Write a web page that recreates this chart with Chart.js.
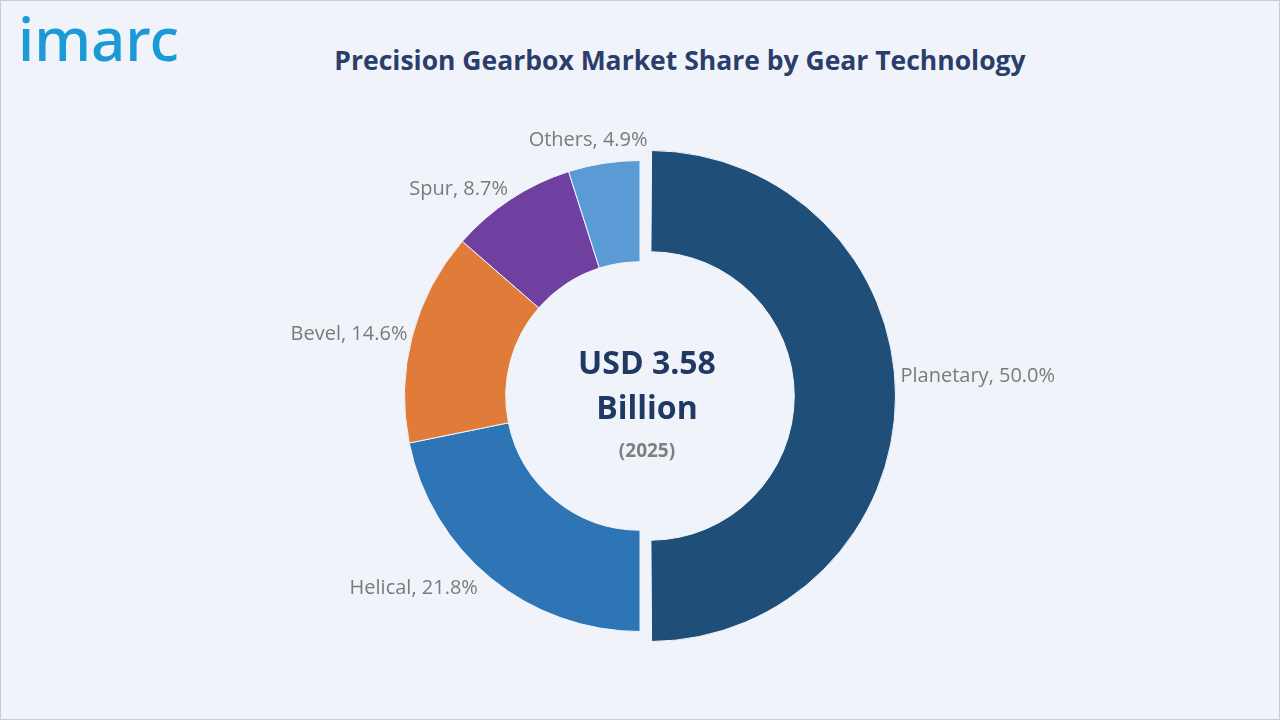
<!DOCTYPE html>
<html><head><meta charset="utf-8">
<script src="https://cdn.jsdelivr.net/npm/chart.js@4"></script>
<style>
  body { margin:0; width:1280px; height:720px; background:#f0f4fa; font-family:"Open Sans", sans-serif; overflow:hidden; }
  #frame { position:absolute; left:0; top:0; width:1278px; height:718px; border:1px solid #c8ccd2; }
  #logo { position:absolute; left:18px; top:8px; font-size:60px; font-weight:500; color:#1c9ad6; letter-spacing:0px; font-family:"Noto Sans", sans-serif; line-height:1; }
  #title { position:absolute; left:0; width:1360px; top:42px; text-align:center; font-size:26.5px; font-weight:bold; color:#2b3d6b; }
  canvas { position:absolute; left:0; top:0; }
</style></head>
<body>
<div id="frame"></div>
<div id="logo">imarc</div>
<div id="title">Precision Gearbox Market Share by Gear Technology</div>
<canvas id="pie" width="1280" height="720"></canvas>
<script>
const categories = ["Planetary", "Helical", "Bevel", "Spur", "Others"];
const shares = [50.0, 21.8, 14.6, 8.7, 4.9];
const colors = ["#1f4e79", "#2e75b6", "#e07b39", "#7040a0", "#5b9bd5"];

const labelPlugin = {
  id: "outLabels",
  afterDraw(chart) {
    const ctx = chart.ctx;
    const arcs = chart.getDatasetMeta(0).data;
    ctx.save();
    ctx.font = "20px 'Open Sans', sans-serif";
    ctx.fillStyle = "#7a7a7a";
    ctx.textBaseline = "middle";
    arcs.forEach((arc, i) => {
      const p = arc.getProps(["x", "y", "startAngle", "endAngle", "outerRadius"], true);
      const mid = (p.startAngle + p.endAngle) / 2;
      const r = p.outerRadius + 5;
      const cx = Math.cos(mid), cy = Math.sin(mid);
      let x = p.x + cx * r + (i === 0 ? 20 : 0), y = p.y + cy * r - (i === 0 ? 20 : 0);
      if (i === 1) { x -= 10; y += 6; }
      if (i === 3) { y -= 6; }
      ctx.textAlign = Math.abs(cx) < 0.3 ? "center" : (cx > 0 ? "left" : "right");
      if (ctx.textAlign === "center") { y -= 18; x -= 15; }
      ctx.fillText(categories[i] + ", " + shares[i].toFixed(1) + "%", x, y);
    });
    const c = arcs[1];
    ctx.textAlign = "center";
    ctx.fillStyle = "#1f3864";
    ctx.font = "bold 32px 'Open Sans', sans-serif";
    ctx.fillText("USD 3.58", c.x + 7, 365);
    ctx.fillText("Billion", c.x + 7, 410);
    ctx.font = "bold 19px 'Open Sans', sans-serif";
    ctx.fillStyle = "#7f7f7f";
    ctx.fillText("(2025)", c.x + 7, 452);
    ctx.restore();
  }
};

new Chart(document.getElementById("pie"), {
  type: "doughnut",
  data: {
    labels: categories,
    datasets: [{
      data: shares,
      backgroundColor: colors,
      borderColor: "#f0f4fa",
      borderWidth: 1,
      offset: [40, 0, 0, 0, 0]
    }]
  },
  options: {
    responsive: false,
    animation: false,
    cutout: "57%",
    layout: { padding: { top: 140, bottom: 68, left: 300, right: 300 } },
    plugins: { legend: { display: false }, tooltip: { enabled: false } }
  },
  plugins: [labelPlugin]
});
</script>
</body></html>
